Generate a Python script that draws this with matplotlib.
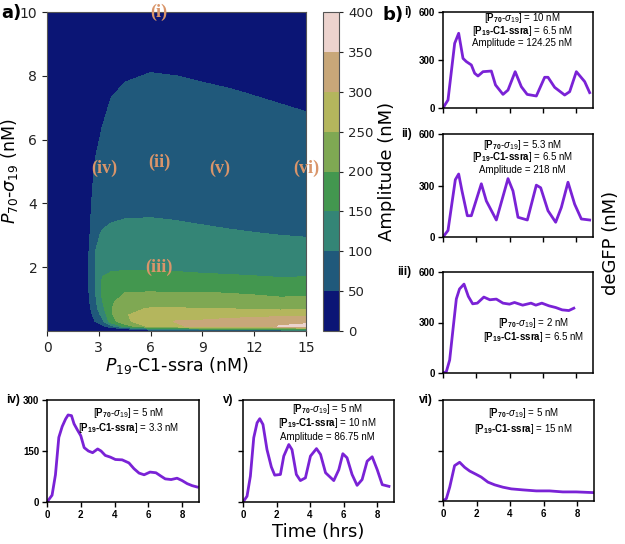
import numpy as np
import matplotlib
matplotlib.use("Agg")
import matplotlib.pyplot as plt

# ── amplitude map (nM) ──
x_conc = [0, 2.2, 2.5, 2.8, 3.2, 3.7, 4.5, 6, 7.5, 9, 10.5, 12, 13.5, 15]          # P19-C1-ssra
y_conc = [0, 0.05, 0.15, 0.3, 0.5, 0.7, 0.9, 1.2, 1.5, 1.9, 2.4, 3.0, 3.6, 4.5,
          5.5, 6.5, 7.5, 8.3, 10]                                                   # P70-sigma19
# one list per x column, bottom to top
amp_cols = [
    [0] * 19,
    [0, 0, 3, 8, 15, 22, 28, 33, 36, 37, 36, 34, 31, 26, 21, 17, 14, 12, 8],
    [0, 1, 5, 18, 35, 47, 52, 55, 57, 57, 55, 51, 45, 37, 29, 23, 18, 15, 10],
    [0, 2, 15, 52, 68, 82, 91, 98, 102, 103, 101, 93, 82, 65, 49, 38, 30, 25, 18],
    [0, 3, 40, 85, 112, 135, 146, 158, 156, 144, 124, 104, 90, 74, 60, 49, 40, 34, 25],
    [0, 5, 80, 175, 192, 197, 195, 185, 165, 148, 126, 109, 95, 80, 67, 58, 48, 40, 30],
    [0, 20, 170, 238, 245, 235, 215, 200, 172, 150, 128, 112, 98, 84, 72, 63, 53, 45, 34],
    [0, 90, 265, 285, 278, 255, 220, 203, 172, 150, 128, 112, 99, 85, 73, 65, 56, 48, 36],
    [0, 110, 295, 302, 283, 255, 218, 200, 170, 148, 126, 110, 97, 83, 71, 63, 55, 47, 35],
    [0, 130, 310, 305, 282, 252, 215, 201, 167, 145, 123, 106, 95, 80, 68, 60, 53, 45, 34],
    [0, 140, 320, 315, 283, 250, 213, 199, 165, 143, 121, 104, 92, 78, 66, 58, 51, 44, 33],
    [0, 150, 335, 325, 285, 242, 210, 197, 162, 141, 120, 102, 89, 76, 64, 57, 49, 42, 32],
    [0, 160, 352, 335, 288, 240, 207, 194, 159, 139, 118, 100, 87, 74, 62, 55, 47, 41, 31],
    [0, 170, 360, 340, 290, 240, 208, 195, 160, 140, 118, 98, 85, 72, 60, 53, 45, 40, 30],
]
amp_levels = [0, 50, 100, 150, 200, 250, 300, 350, 400]

# conditions marked on the map
mark_names = ["(i)", "(ii)", "(iii)", "(iv)", "(v)", "(vi)"]
mark_x = [6.5, 6.5, 6.5, 3.3, 10, 15]
mark_y = [10, 5.3, 2.0, 5.1, 5.1, 5.1]

# ── deGFP traces (nM) vs time (hrs) ──
t_i = [0, 0.3, 0.7, 0.94, 1.2, 1.4, 1.7, 1.9, 2.1, 2.4, 2.9, 3.15, 3.6, 3.9, 4.33,
       4.7, 5.05, 5.6, 6.1, 6.3, 6.7, 7.3, 7.6, 8.0, 8.5, 8.8]
y_i = [0, 50, 404, 467, 310, 290, 269, 217, 200, 227, 231, 144, 85, 112, 227,
       133, 85, 75, 192, 192, 129, 81, 102, 227, 165, 96]

t_ii = [0, 0.3, 0.74, 0.94, 1.14, 1.46, 1.7, 2.3, 2.6, 3.2, 3.9, 4.2, 4.5, 5.06,
        5.6, 5.86, 6.3, 6.76, 7.1, 7.5, 7.9, 8.3, 8.8]
y_ii = [0, 38, 334, 367, 268, 124, 124, 310, 210, 99, 340, 268, 115, 99,
        302, 287, 153, 86, 172, 319, 191, 105, 99]

t_iii = [0, 0.2, 0.4, 0.6, 0.8, 0.99, 1.26, 1.52, 1.78, 2.06, 2.45, 2.81, 3.2, 3.6,
         3.99, 4.29, 4.78, 5.28, 5.57, 5.93, 6.36, 6.76, 7.15, 7.55, 7.85]
y_iii = [0, 8, 77, 260, 440, 499, 528, 455, 411, 415, 451, 435, 439, 415,
         409, 419, 403, 415, 403, 415, 399, 389, 375, 371, 385]

t_iv = [0, 0.15, 0.3, 0.5, 0.7, 0.9, 1.1, 1.25, 1.45, 1.6, 1.8, 2.0, 2.2, 2.45, 2.7,
        3.0, 3.2, 3.45, 3.75, 4.05, 4.45, 4.85, 5.15, 5.45, 5.75, 6.1, 6.45, 6.75,
        7.0, 7.35, 7.7, 8.0, 8.3, 8.6, 8.9]
y_iv = [0, 10, 20, 80, 190, 222, 244, 256, 254, 230, 212, 195, 160, 150, 145,
        156, 150, 137, 132, 125, 124, 115, 98, 85, 80, 88, 86, 76,
        68, 66, 70, 63, 54, 48, 44]

t_v = [0, 0.24, 0.44, 0.64, 0.84, 1.0, 1.19, 1.43, 1.69, 1.89, 2.23, 2.43, 2.73, 2.92,
       3.18, 3.42, 3.72, 4.02, 4.38, 4.62, 4.92, 5.41, 5.71, 5.95, 6.2, 6.5, 6.8,
       7.1, 7.4, 7.7, 8.0, 8.3, 8.7]
y_v = [0, 17, 76, 189, 233, 245, 228, 154, 103, 79, 81, 135, 169, 154,
       81, 63, 71, 135, 157, 140, 86, 63, 95, 142, 130, 81, 49,
       66, 120, 133, 95, 51, 46]

t_vi = [0, 0.2, 0.4, 0.69, 0.99, 1.29, 1.59, 1.98, 2.28, 2.68, 3.08, 3.57, 4.07,
        4.76, 5.56, 6.35, 7.14, 7.94, 8.93]
y_vi = [0, 7, 41, 105, 115, 100, 89, 79, 71, 56, 48, 41, 36, 33, 30, 30, 27, 27, 25]

P70 = "[$\\mathbf{P_{70}}$-$\\sigma_{19}$]"
P19 = "[$\\mathbf{P_{19}‐C1‐ssra}$]"
text_i = [P70 + " = 10 nM", P19 + " = 6.5 nM", "Amplitude = 124.25 nM"]
text_ii = [P70 + " = 5.3 nM", P19 + " = 6.5 nM", "Amplitude = 218 nM"]
text_iii = [P70 + " = 2 nM", P19 + " = 6.5 nM"]
text_iv = [P70 + " = 5 nM", P19 + " = 3.3 nM"]
text_v = [P70 + " = 5 nM", P19 + " = 10 nM", "Amplitude = 86.75 nM"]
text_vi = [P70 + " = 5 nM", P19 + " = 15 nM"]

plt.rcParams["mathtext.fontset"] = "custom"
plt.rcParams["mathtext.rm"] = "Liberation Sans"
plt.rcParams["mathtext.it"] = "Liberation Sans:italic"
plt.rcParams["mathtext.bf"] = "Liberation Sans:bold"

W, H = 625, 544
fig = plt.figure(figsize=(W / 100, H / 100), dpi=100)


def box(l, t, r, b):
    # pixel box -> figure fraction
    return [l / W, 1 - b / H, (r - l) / W, (b - t) / H]


# ── panel a ──
ax = fig.add_axes(box(47, 12, 306, 331))
Z = np.array(amp_cols).T
cs = ax.contourf(x_conc, y_conc, Z, levels=amp_levels, cmap="gist_earth")
ax.set_xlim(0, 15)
ax.set_ylim(0, 10)
ax.set_xticks([0, 3, 6, 9, 12, 15])
ax.set_yticks([2, 4, 6, 8, 10])
ax.tick_params(labelsize=10, colors="#222222", length=3.5)
for s in ax.spines.values():
    s.set_color("#555555")
    s.set_linewidth(0.8)
ax.set_xlabel("$P_{19}$-C1-ssra (nM)", fontsize=12.5, math_fontfamily="dejavusans", labelpad=0)
ax.set_ylabel("$P_{70}$-$\\sigma_{19}$ (nM)", fontsize=12.5, math_fontfamily="dejavusans")
ax.yaxis.set_label_coords(-0.105, 0.5)
for name, mx, my in zip(mark_names, mark_x, mark_y):
    ax.text(mx, my, name, ha="center", va="center", fontsize=13, fontweight="bold",
            family="Liberation Serif", color="#d9956a", clip_on=False)

cax = fig.add_axes(box(323, 12, 339, 331))
cb = fig.colorbar(cs, cax=cax, ticks=amp_levels)
cb.ax.tick_params(labelsize=9.5, colors="#222222", length=3)
cb.outline.set_edgecolor("#555555")
cb.outline.set_linewidth(0.8)
cb.set_label("Amplitude (nM)", fontsize=13, labelpad=3)

fig.text(1 / W, 1 - 13 / H, "a)", fontsize=13, fontweight="bold", va="center")
fig.text(383 / W, 1 - 15 / H, "b)", fontsize=13, fontweight="bold", va="center")

# ── panel b traces ──
line_col = "#7a22d6"
# name, box, time, values, text lines, y max, text x (axes frac),
# first line offset and line step (px below top)
panels = [
    ("i)", box(443, 12, 593, 108), t_i, y_i, text_i, 600, 0.53, 6, 12.5),
    ("ii)", box(443, 134, 593, 237), t_ii, y_ii, text_ii, 600, 0.53, 11, 12.5),
    ("iii)", box(443, 272, 593, 373), t_iii, y_iii, text_iii, 600, 0.60, 51, 14),
    ("iv)", box(47, 400, 199, 502), t_iv, y_iv, text_iv, 300, 0.535, 13, 15),
    ("v)", box(243, 400, 394, 502), t_v, y_v, text_v, 300, 0.56, 9, 14),
    ("vi)", box(443, 400, 594, 501), t_vi, y_vi, text_vi, 300, 0.53, 13, 16),
]
for name, rect, tt, yy, lines, ymax, tx, off, step in panels:
    a = fig.add_axes(rect)
    a.plot(tt, yy, color=line_col, lw=2)
    a.set_xlim(0, 9)
    a.set_ylim(0, ymax)
    a.set_xticks([0, 2, 4, 6, 8])
    a.set_yticks([0, ymax / 2, ymax])
    a.set_yticklabels([str(int(v)) for v in a.get_yticks()])
    a.tick_params(direction="out", length=3.5, width=1, labelsize=7, pad=2)
    for lab in a.get_xticklabels() + a.get_yticklabels():
        lab.set_fontweight("bold")
        lab.set_family("Liberation Sans")
    for s in a.spines.values():
        s.set_linewidth(1.1)
    if name in ("i)", "ii)", "iii)"):
        a.set_xticklabels([])
    if name in ("v)", "vi)"):
        a.set_yticklabels([])
    for k, line in enumerate(lines):
        a.annotate(line, xy=(tx, 1), xycoords="axes fraction",
                   xytext=(0, -(off + step * k) * 0.72), textcoords="offset points",
                   ha="center", va="center", fontsize=7, family="Liberation Sans",
                   math_fontfamily="custom")
    lx = -0.21 if name in ("i)", "ii)", "iii)") else (-0.18 if name == "iv)" else -0.066)
    a.text(lx, 1.0, name, transform=a.transAxes, ha="right", va="center",
           fontsize=8.5, fontweight="bold", family="Liberation Sans")

fig.text(611 / W, 1 - 243 / H, "deGFP (nM)", rotation=90, fontsize=13, ha="center", va="center")
fig.text(318 / W, 1 - 532 / H, "Time (hrs)", fontsize=13, ha="center", va="center")

fig.savefig("out.png", dpi=100)
